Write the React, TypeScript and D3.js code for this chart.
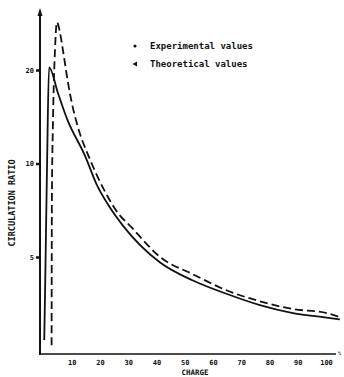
import { useEffect, useRef } from "react";
import * as d3 from "d3";

const WIDTH = 344;
const HEIGHT = 377;

// charge (%) on x, circulation ratio (log) on y
const xTicks = [10, 20, 30, 40, 50, 60, 70, 80, 90, 100];
const yTicks = [20, 10, 5];

const solidCharge = [0.3, 0.6, 1.3, 2.0, 5.2, 8.4, 14.7, 19.0, 23.6, 28.2, 41.3, 52.9, 65.0, 76.6, 88.3, 98.9, 104.9];
const solidRatio = [2.7, 3.9, 10.0, 20.4, 16.8, 13.9, 10.6, 8.5, 7.2, 6.3, 4.8, 4.2, 3.8, 3.5, 3.3, 3.2, 3.15];

const dashedCharge = [2.9, 3.0, 3.4, 4.1, 4.8, 5.9, 7.0, 8.7, 10.1, 11.9, 16.5, 22.5, 26.0, 31.4, 41.3, 52.9, 65.0, 76.6, 88.3, 100.3, 104.9];
const dashedRatio = [2.6, 7.6, 13.8, 23.2, 28.5, 26.3, 22.9, 18.2, 15.6, 13.4, 10.3, 7.9, 7.0, 6.2, 5.0, 4.4, 3.9, 3.6, 3.4, 3.3, 3.2];

const legendLabels = ["Experimental values", "Theoretical values"];

const INK = "#111";
const FONT = "'DejaVu Sans Mono', monospace";

export default function App() {
  const axesRef = useRef<SVGGElement>(null);

  const xScale = d3.scaleLinear().domain([0, 100]).range([43.4, 326]);
  const yScale = d3.scaleLog().domain([2.5, 20]).range([350.5, 70]);

  useEffect(() => {
    const g = d3.select(axesRef.current);
    g.selectAll("*").remove();

    const xAxis = g
      .append("g")
      .attr("transform", "translate(0,354)")
      .call(d3.axisBottom(xScale).tickValues(xTicks).tickSize(0).tickPadding(6).tickFormat(d3.format("d")));
    xAxis.select(".domain").remove();
    xAxis
      .selectAll("text")
      .attr("font-family", FONT)
      .attr("font-weight", "bold")
      .attr("font-size", 7)
      .attr("fill", INK);

    const yAxis = g
      .append("g")
      .attr("transform", "translate(40,0)")
      .call(d3.axisLeft(yScale).tickValues(yTicks).tickSize(4).tickPadding(2).tickFormat(d3.format("d")));
    yAxis.select(".domain").remove();
    yAxis.selectAll("line").attr("stroke", INK).attr("stroke-width", 2.5);
    yAxis
      .selectAll("text")
      .attr("font-family", FONT)
      .attr("font-weight", "bold")
      .attr("font-size", 7)
      .attr("fill", INK);
  }, []);

  const line = d3
    .line<[number, number]>()
    .x((d) => xScale(d[0]))
    .y((d) => yScale(d[1]))
    .curve(d3.curveMonotoneX);

  const solidPts = solidCharge.map((c, i) => [c, solidRatio[i]] as [number, number]);
  const dashedPts = dashedCharge.map((c, i) => [c, dashedRatio[i]] as [number, number]);

  return (
    <svg
      width={WIDTH}
      height={HEIGHT}
      style={{ position: "absolute", left: 0, top: 0, background: "#fff" }}
    >
      {/* axis lines */}
      <line x1={40} y1={12} x2={40} y2={355} stroke={INK} strokeWidth={2} />
      <path d="M40,8 L37.5,16 L42.5,16 Z" fill={INK} />
      <line x1={39} y1={354} x2={336} y2={354} stroke={INK} strokeWidth={1.5} />
      <text x={338} y={355} fontFamily={FONT} fontSize={5} fontWeight="bold" fill={INK}>
        %
      </text>

      <g ref={axesRef} />

      {/* curves */}
      <path d={line(solidPts) ?? ""} fill="none" stroke={INK} strokeWidth={1.8} />
      <path
        d={line(dashedPts) ?? ""}
        fill="none"
        stroke={INK}
        strokeWidth={1.8}
        strokeDasharray="8,4"
      />

      {/* legend */}
      <circle cx={135} cy={46} r={1.6} fill={INK} />
      <path d="M132.5,64 L137,61.5 L137,66.5 Z" fill={INK} />
      {legendLabels.map((l, i) => (
        <text
          key={l}
          x={150}
          y={49 + i * 18}
          fontFamily={FONT}
          fontWeight="bold"
          fontSize={9}
          fill={INK}
        >
          {l}
        </text>
      ))}

      {/* axis titles */}
      <text
        transform="translate(15,203) rotate(-90)"
        textAnchor="middle"
        fontFamily={FONT}
        fontWeight="bold"
        fontSize={8.5}
        fill={INK}
      >
        CIRCULATION RATIO
      </text>
      <text
        x={195}
        y={375}
        textAnchor="middle"
        fontFamily={FONT}
        fontWeight="bold"
        fontSize={7.5}
        fill={INK}
      >
        CHARGE
      </text>
    </svg>
  );
}
